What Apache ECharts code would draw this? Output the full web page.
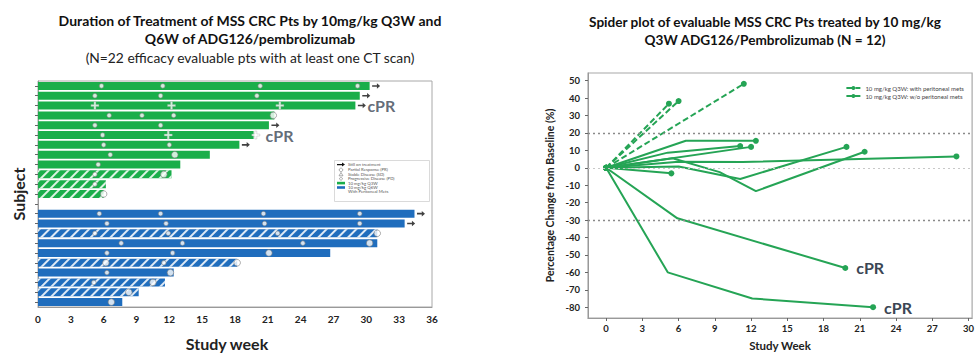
<!DOCTYPE html>
<html><head><meta charset="utf-8">
<script src="https://cdn.jsdelivr.net/npm/echarts@6/dist/echarts.min.js"></script>
<style>html,body{margin:0;padding:0;background:#fff}#c{width:977px;height:356px}</style>
</head><body><div id="c"></div>
<script>
// ===== Swimmer plot (left) data =====
const q3wEnd        = [30.3, 29.4, 29.0, 21.6, 21.1, 19.7, 18.4, 15.7, 13.0, 12.2, 6.2, 6.0];
const q3wPeritoneal = [0, 0, 0, 0, 0, 0, 0, 0, 0, 1, 1, 1];
const q3wOngoing    = [1, 1, 1, 0, 1, 0, 1, 0, 0, 0, 0, 0];
const q3wCPR        = [0, 0, 1, 0, 0, 1, 0, 0, 0, 0, 0, 0];
const q3wSD = [[5.8, 11.4, 20.3, 29.2], [5.2, 11.2, 20.0], [], [6.5, 9.5, 12.4], [5.2, 11.2], [5.9], [6.0, 12.0], [6.6], [5.5], [5.2], [5.2], []];
const q3wPR = [[], [], [5.2, 12.2, 22.1], [], [], [11.9, 19.9], [], [], [], [], [], []];
const q3wPD = [[], [], [], [21.5], [], [], [], [12.5], [], [11.5], [], [6.0]];

const q6wEnd        = [34.4, 33.5, 31.0, 31.0, 26.7, 18.2, 12.4, 11.6, 9.2, 7.7];
const q6wPeritoneal = [0, 0, 1, 0, 0, 1, 0, 1, 1, 0];
const q6wOngoing    = [1, 1, 0, 0, 0, 0, 0, 0, 0, 0];
const q6wSD = [[5.6, 11.2, 20.6, 29.4], [6.3, 11.7, 20.7, 29.4], [5.2, 11.9, 21.9], [7.6, 13.2, 24.2], [6.3, 12.3], [11.5], [6.3], [5.1], [], []];
const q6wPD = [[], [], [31.0], [30.3], [21.1], [6.2, 18.2], [12.1], [10.5], [8.3], [6.7]];

const swimLegend = ['Still on treatment', 'Partial Response (PR)', 'Stable Disease (SD)', 'Progressive Disease (PD)', '10 mg/kg Q3W', '10 mg/kg Q6W', 'With Peritoneal Mets'];

// ===== Spider plot (right) data =====
const withMetsName = '10 mg/kg Q3W: with peritoneal mets';
const withoutMetsName = '10 mg/kg Q3W: w/o peritoneal mets';
const spiderWithMets = [
  [[0, 0], [5.2, 36.8]],
  [[0, 0], [6.0, 38.3]],
  [[0, 0], [11.4, 48.2]]
];
const spiderWithoutMets = [
  [[0, 0], [6.6, 15.5], [12.4, 15.5]],
  [[0, 0], [5.1, 8.7], [11.1, 12.5]],
  [[0, 0], [12.0, 12.0]],
  [[0, 0], [6.0, 3.4], [11.3, 3.3], [29.0, 6.5]],
  [[0, 0], [6.0, 0.8], [11.1, -6.4], [19.9, 12.0]],
  [[0, 0], [5.5, 5.5], [9.4, -2.5], [12.4, -13.4], [21.4, 9.2]],
  [[0, 0], [5.4, -3.2]],
  [[0, 0], [5.9, -29.0], [19.8, -57.5]],
  [[0, 0], [5.1, -60.0], [12.1, -75.0], [22.1, -80.0]]
];
const spiderCPR = [0, 0, 0, 0, 0, 0, 0, 1, 1];
const spiderXTicks = [0, 3, 6, 9, 12, 15, 18, 21, 24, 27, 30];
const spiderYTicks = [-80, -70, -60, -50, -40, -30, -20, -10, 0, 10, 20, 30, 40, 50];
const spiderRefLines = [20, -30];

// ===== build =====
const FONT = 'Lato, "Open Sans", sans-serif';
const GREEN = '#1aae4a', BLUE = '#1f6dbd', SPIDER = '#25a455', TXT = '#222', CPR_COLOR = '#3b4654';
const hatch = { symbol: 'rect', symbolSize: 1, dashArrayX: [1, 0], dashArrayY: [1.5, 5], rotation: -Math.PI / 4, color: 'rgba(255,255,255,0.85)' };

const gapIndex = q3wEnd.length;
const q6wRow = j => gapIndex + 1 + j;
const categories = [...q3wEnd.map((_, i) => 'Q3W-' + (i + 1)), '', ...q6wEnd.map((_, j) => 'Q6W-' + (j + 1))];

const barData = categories.map((c, k) => {
  if (k < gapIndex) return { value: q3wEnd[k], itemStyle: { color: GREEN, decal: q3wPeritoneal[k] ? hatch : null } };
  if (k === gapIndex) return '-';
  const j = k - gapIndex - 1;
  return { value: q6wEnd[j], itemStyle: { color: BLUE, decal: q6wPeritoneal[j] ? hatch : null } };
});

function collect(a3, a6) {
  const out = [];
  a3.forEach((ws, i) => ws.forEach(w => out.push([w, i])));
  if (a6) a6.forEach((ws, j) => ws.forEach(w => out.push([w, q6wRow(j)])));
  return out;
}
const sdPts = collect(q3wSD, q6wSD);
const prPts = collect(q3wPR, null);
const pdPts = collect(q3wPD, q6wPD);
const arrowPts = [];
q3wOngoing.forEach((f, i) => { if (f) arrowPts.push([q3wEnd[i], i]); });
q6wOngoing.forEach((f, j) => { if (f) arrowPts.push([q6wEnd[j], q6wRow(j)]); });
const cprPts = [];
q3wCPR.forEach((f, i) => { if (f) cprPts.push([q3wEnd[i], i]); });

const ARROW = 'path://M0,4 L6,4 L6,1.5 L10,5 L6,8.5 L6,6 L0,6 Z';
const PLUS = 'path://M3,0 L5,0 L5,3 L8,3 L8,5 L5,5 L5,8 L3,8 L3,5 L0,5 L0,3 L3,3 Z';

const series = [
  { type: 'bar', name: 'duration', xAxisIndex: 0, yAxisIndex: 0, data: barData, barWidth: 8, z: 2, silent: true },
  { type: 'scatter', name: 'SD', xAxisIndex: 0, yAxisIndex: 0, data: sdPts, symbol: 'circle', symbolSize: 4.5,
    itemStyle: { color: '#fff', borderColor: '#808080', borderWidth: 0.8 }, z: 4 },
  { type: 'scatter', name: 'PR', xAxisIndex: 0, yAxisIndex: 0, data: prPts, symbol: PLUS, symbolSize: 8,
    itemStyle: { color: '#fff', borderColor: '#999', borderWidth: 0.4 }, z: 4 },
  { type: 'scatter', name: 'PD', xAxisIndex: 0, yAxisIndex: 0, data: pdPts, symbol: 'circle', symbolSize: 6.5,
    itemStyle: { color: '#fff', borderColor: '#808080', borderWidth: 0.8 }, z: 4 },
  { type: 'scatter', name: 'ongoing', xAxisIndex: 0, yAxisIndex: 0, data: arrowPts, symbol: ARROW, symbolSize: [8, 5.5],
    symbolOffset: [6.5, 0], itemStyle: { color: '#111' }, z: 4 },
  { type: 'scatter', name: 'cPRleft', xAxisIndex: 0, yAxisIndex: 0, data: cprPts, symbolSize: 0, z: 5,
    label: { show: true, position: 'right', distance: 12, formatter: 'cPR', fontFamily: FONT, fontWeight: 'bold', fontSize: 16, color: CPR_COLOR } }
];

function spiderSeries(points, name, dashed, cpr) {
  const last = points.length - 1;
  return {
    type: 'line', name, xAxisIndex: 1, yAxisIndex: 1,
    data: points.map((p, k) => (k === last && cpr) ? { value: p, label: { show: true, position: 'right', distance: 8, formatter: 'cPR', fontFamily: FONT, fontWeight: 'bold', fontSize: 16, color: CPR_COLOR } } : p),
    symbol: 'circle', showSymbol: true, showAllSymbol: true,
    symbolSize: (v, p) => (p.dataIndex === last || p.dataIndex === 0) ? 6 : 0,
    lineStyle: { color: SPIDER, width: 2, type: dashed ? [6, 3] : 'solid' },
    itemStyle: { color: SPIDER },
    emphasis: { disabled: true }, z: 3
  };
}
spiderWithMets.forEach(p => series.push(spiderSeries(p, withMetsName, true, false)));
spiderWithoutMets.forEach((p, i) => series.push(spiderSeries(p, withoutMetsName, false, spiderCPR[i])));
// reference lines
series.push({
  type: 'line', name: 'ref', xAxisIndex: 1, yAxisIndex: 1, data: [], silent: true,
  markLine: { silent: true, symbol: ['none', 'none'], label: { show: false },
    data: [...spiderRefLines.map(v => ({ yAxis: v, lineStyle: { color: '#8a8a8a', type: [2, 3], width: 1.3 } })),
           { yAxis: 0, lineStyle: { color: '#c8c8c8', type: [2, 3], width: 1.2 } }] }
});

// left legend graphic
const legY = [164.6, 169.9, 174.3, 178.7, 183.1, 187.5, 191.9];
const legendEls = [{ type: 'rect', shape: { x: 334.5, y: 160.5, width: 95, height: 41 }, style: { fill: '#fff', stroke: '#d0d0d0', lineWidth: 0.8 }, z: 10 }];
swimLegend.forEach((t, i) => {
  const y = legY[i];
  let icon;
  if (i === 0) icon = { type: 'polygon', shape: { points: [[337, y - 0.6], [342, y - 0.6], [342, y - 2], [345, y], [342, y + 2], [342, y + 0.6], [337, y + 0.6]] }, style: { fill: '#111' } };
  else if (i === 1) icon = { type: 'circle', shape: { cx: 341, cy: y, r: 1.8 }, style: { fill: '#fff', stroke: '#777', lineWidth: 0.6 } };
  else if (i === 2) icon = { type: 'polygon', shape: { points: [[341, y - 1.8], [343, y + 1.5], [339, y + 1.5]] }, style: { fill: '#fff', stroke: '#777', lineWidth: 0.6 } };
  else if (i === 3) icon = { type: 'circle', shape: { cx: 341, cy: y, r: 1.4 }, style: { fill: '#fff', stroke: '#777', lineWidth: 0.6 } };
  else if (i === 4) icon = { type: 'rect', shape: { x: 337, y: y - 1.3, width: 8, height: 2.6 }, style: { fill: GREEN } };
  else if (i === 5) icon = { type: 'rect', shape: { x: 337, y: y - 1.3, width: 8, height: 2.6 }, style: { fill: BLUE } };
  else icon = { type: 'rect', shape: { x: 337, y: y - 1.3, width: 8, height: 2.6 }, style: { fill: '#fff' } };
  icon.z = 11;
  legendEls.push(icon);
  legendEls.push({ type: 'text', x: 348, y: y, z: 11, style: { text: t, fontSize: 4.3, fontFamily: FONT, fill: '#555', verticalAlign: 'middle' } });
});

const axisLabelStyle = { fontFamily: FONT, fontWeight: 'bold', color: TXT };

const option = {
  animation: false,
  backgroundColor: '#fff',
  textStyle: { fontFamily: FONT },
  title: [
    { text: 'Duration of Treatment of MSS CRC Pts by 10mg/kg Q3W and\nQ6W of ADG126/pembrolizumab',
      subtext: '(N=22 efficacy evaluable pts with at least one CT scan)',
      left: 245, top: 6, textAlign: 'center', itemGap: 2,
      textStyle: { fontFamily: FONT, fontWeight: 'bold', fontSize: 14, lineHeight: 18, color: '#111' },
      subtextStyle: { fontFamily: FONT, fontSize: 13.8, color: '#222', lineHeight: 16 } },
    { text: 'Spider plot of evaluable MSS CRC Pts treated by 10 mg/kg\nQ3W ADG126/Pembrolizumab (N = 12)',
      left: 760, top: 8, textAlign: 'center',
      textStyle: { fontFamily: FONT, fontWeight: 'bold', fontSize: 13.6, lineHeight: 18, color: '#111' } }
  ],
  legend: {
    data: [withMetsName, withoutMetsName], right: 8, top: 80, orient: 'vertical', itemGap: 2,
    itemWidth: 14, itemHeight: 5, textStyle: { fontSize: 6, color: '#444', fontFamily: FONT }, selectedMode: false
  },
  grid: [
    { left: 38, top: 81, width: 394, height: 238, show: true, borderColor: '#a8a8a8', borderWidth: 1, containLabel: false },
    { left: 588, top: 73, width: 387, height: 255, show: true, borderColor: '#a8a8a8', borderWidth: 1.2, containLabel: false }
  ],
  xAxis: [
    { type: 'value', gridIndex: 0, min: 0, max: 36, interval: 3,
      axisLine: { show: true, lineStyle: { color: '#999' } }, axisTick: { show: false }, splitLine: { show: false },
      axisLabel: { ...axisLabelStyle, fontSize: 10, margin: 7 },
      name: 'Study week', nameLocation: 'middle', nameGap: 28,
      nameTextStyle: { fontFamily: FONT, fontWeight: 'bold', fontSize: 16, color: TXT, padding: [0, 16, 0, 0] } },
    { type: 'value', gridIndex: 1, min: -1.5, max: 30.3,
      axisLine: { show: true, onZero: false, lineStyle: { color: '#999' } },
      axisTick: { show: true, length: 3, customValues: spiderXTicks, lineStyle: { color: '#666' } },
      splitLine: { show: false },
      axisLabel: { ...axisLabelStyle, fontSize: 9.5, margin: 5, customValues: spiderXTicks },
      name: 'Study Week', nameLocation: 'middle', nameGap: 21,
      nameTextStyle: { fontFamily: FONT, fontWeight: 'bold', fontSize: 11.5, color: TXT } }
  ],
  yAxis: [
    { type: 'category', gridIndex: 0, data: categories, inverse: true,
      axisLine: { show: true, lineStyle: { color: '#999' } },
      axisTick: { show: true, alignWithLabel: true, interval: 0, length: 3, lineStyle: { color: '#666' } },
      axisLabel: { show: false }, splitLine: { show: false },
      name: 'Subject', nameLocation: 'middle', nameGap: 12, nameRotate: 90,
      nameTextStyle: { fontFamily: FONT, fontWeight: 'bold', fontSize: 16, color: TXT } },
    { type: 'value', gridIndex: 1, min: -86.2, max: 54.4,
      axisLine: { show: true, onZero: false, lineStyle: { color: '#999' } },
      axisTick: { show: true, length: 3, customValues: spiderYTicks, lineStyle: { color: '#666' } },
      splitLine: { show: false },
      axisLabel: { ...axisLabelStyle, fontSize: 9.5, margin: 8, customValues: spiderYTicks },
      name: 'Percentage Change from Baseline (%)', nameLocation: 'middle', nameGap: 33, nameRotate: 90,
      nameTextStyle: { fontFamily: FONT, fontWeight: 'bold', fontSize: 10.5, color: TXT } }
  ],
  graphic: legendEls,
  series
};

const chart = echarts.init(document.getElementById('c'), null, { renderer: 'svg' });
chart.setOption(option);
</script>
</body></html>
